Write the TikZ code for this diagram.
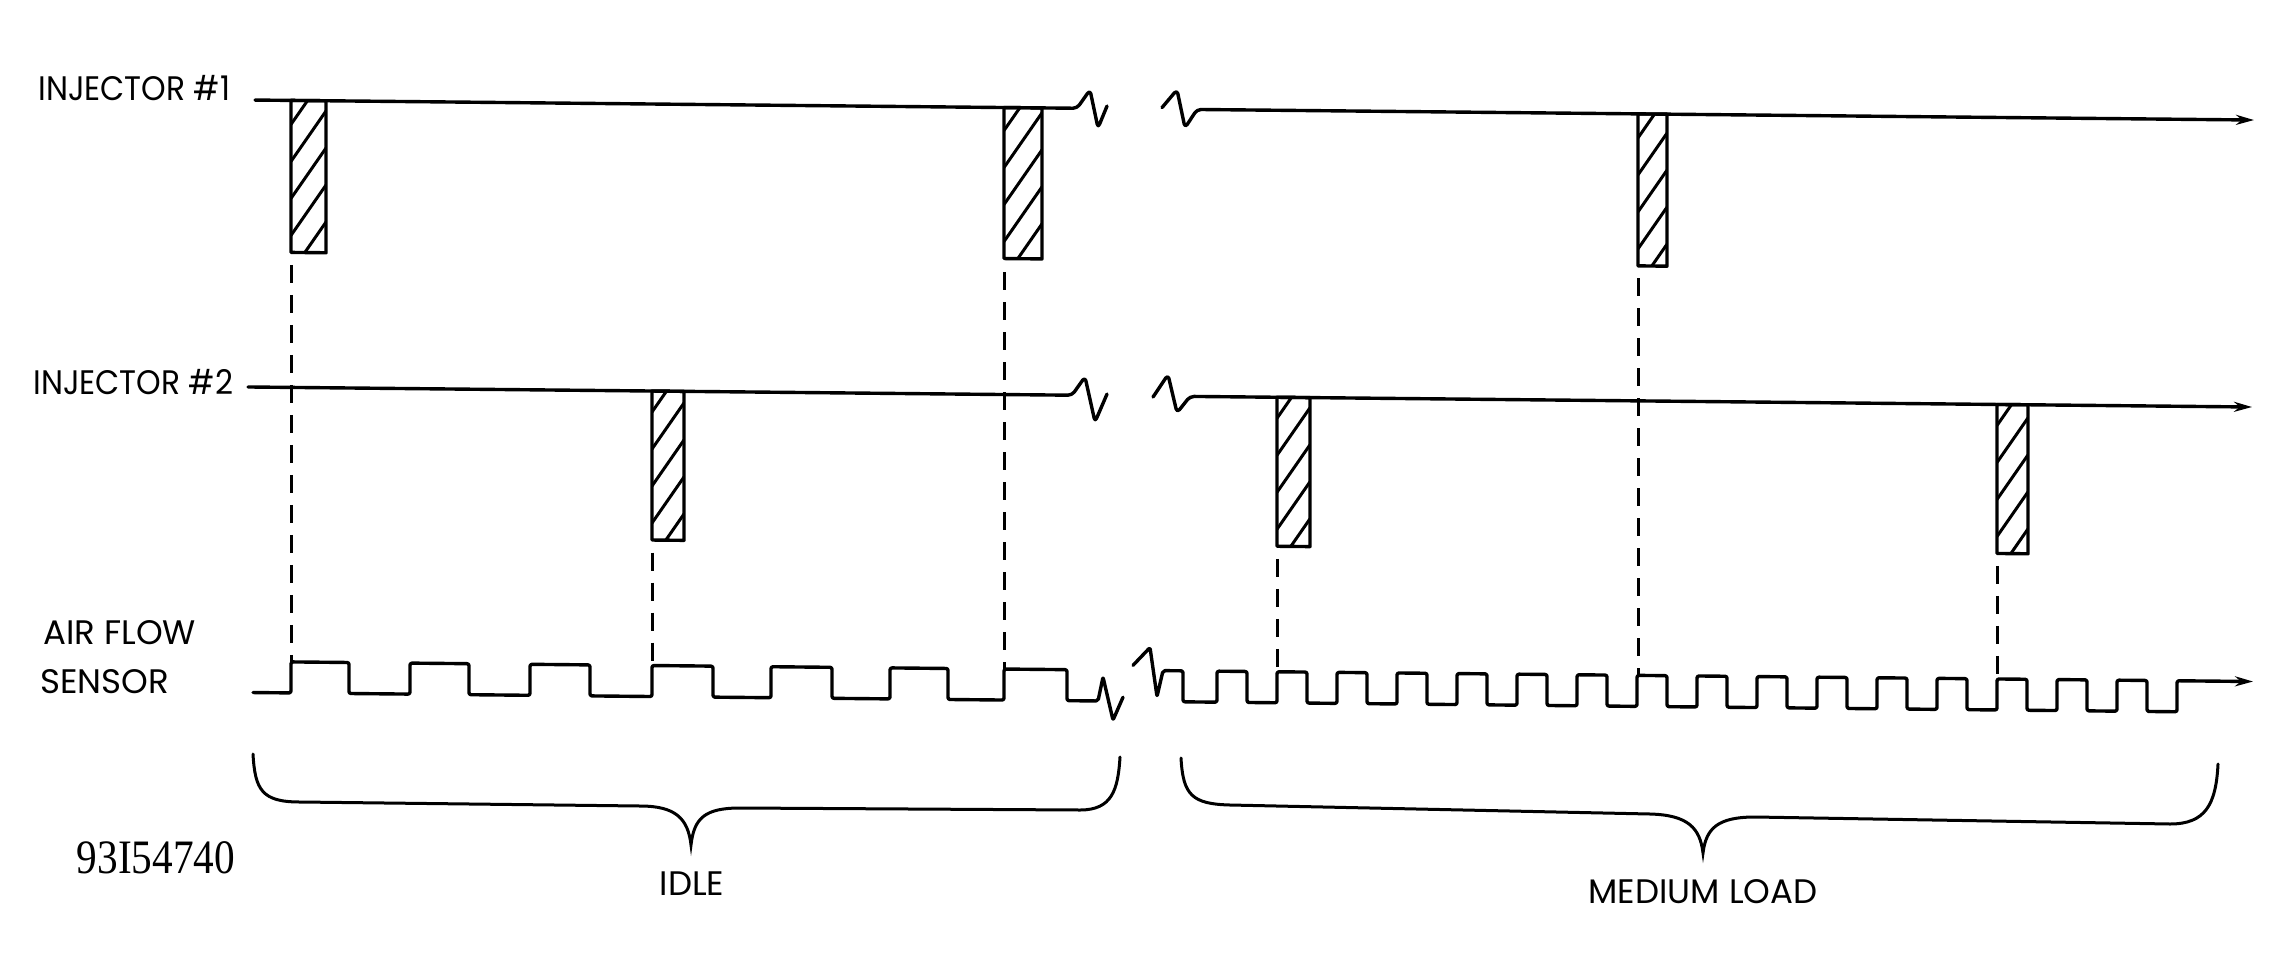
\documentclass[tikz,border=0pt]{standalone}
\usepackage{fontspec}
\setmainfont{Poppins}
\newfontfamily\numfont{Liberation Serif}
\usetikzlibrary{arrows.meta}
\newcommand\injpulse[4]{%
  \begin{scope}
    \clip (#1,#2) rectangle ++(#3,#4);
    \foreach \k in {0,...,6}{\draw[hatchline] (#1,{#2+#4+20-37*\k}) -- ++(#3,{-1.45*#3});}
  \end{scope}
  \draw[wave] (#1,#2) rectangle ++(#3,#4);}
\newcommand\narrowlbl[1]{\scalebox{0.92}[1]{#1}}
\begin{document}
\begin{tikzpicture}[x=0.5pt,y=-0.5pt,
  wave/.style={line width=1.7pt, line join=round, line cap=round},
  hatchline/.style={line width=1.5pt},
  guide/.style={line width=1.5pt, dash pattern=on 9pt off 6pt},
  arrowline/.style={wave, -{Stealth[length=9pt,width=5pt]}},
  brace/.style={line width=1.5pt, line cap=round},
  lab/.style={inner sep=0pt, font=\fontsize{17}{20}\selectfont},
]
\useasboundingbox (0,0) rectangle (2295,979);
\fill[white] (0,0) rectangle (2295,979);

\begin{scope}[cm={1,-0.01,0,1,(0,0)}]
  % injector 1
  \draw[wave, rounded corners=2pt] (255,97.5) -- (1077,97.5) -- (1090,79) -- (1098,117) -- (1107,95);
  \draw[arrowline, rounded corners=2pt] (1162,96) -- (1177,78) -- (1185,116) -- (1197,97.5) -- (2254,97.5);
  % injector 2
  \draw[wave, rounded corners=2pt] (248,384.5) -- (1072,384.5) -- (1085,366) -- (1095,411) -- (1107,383);
  \draw[arrowline, rounded corners=2pt] (1153,385.5) -- (1168,363) -- (1177,401) -- (1190,384.5) -- (2252,384.5);
  % pulses
  \injpulse{291}{97.5}{35}{152}
  \injpulse{1004}{97.5}{38}{151}
  \injpulse{1638}{97.5}{29}{152}
  \injpulse{652}{384.5}{32}{149}
  \injpulse{1277}{384.5}{33}{149}
  \injpulse{1997}{384.5}{31}{149}
  % guides
  \draw[guide] (291,262) -- (291,659);
  \draw[guide] (1004,262) -- (1004,659);
  \draw[guide] (1638,262) -- (1638,659);
  \draw[guide] (652,546) -- (652,659);
  \draw[guide] (1277,546) -- (1277,659);
  \draw[guide] (1997,546) -- (1997,659);
  % air flow sensor, idle
  \draw[wave, rounded corners=1pt] (253,690) -- (291,690) -- (291,659) -- (349,659) -- (349,690)
    -- (410,690) -- (410,659) -- (469,659) -- (469,690) -- (530,690) -- (530,659) -- (590,659)
    -- (590,690) -- (652,690) -- (652,659) -- (713,659) -- (713,690) -- (771,690) -- (771,659)
    -- (832,659) -- (832,690) -- (890,690) -- (890,659) -- (948,659) -- (948,690) -- (1004,690)
    -- (1004,659) -- (1067,659) -- (1067,690) -- (1098,690) -- (1103,666) -- (1113,709) -- (1123,686);
  % air flow sensor, medium load
  \draw[arrowline, rounded corners=1pt] (1133,654) -- (1150,636) -- (1157,685) -- (1163,659) -- (1183,659) -- (1183,690)
    \foreach \k in {0,...,15}{ -- ({1217+60*\k},690) -- ({1217+60*\k},659) -- ({1247+60*\k},659) -- ({1247+60*\k},690)}
    -- (2177,690) -- (2177,659) -- (2253,659);
\end{scope}

% braces
\draw[brace] (253,754) .. controls (255,790) and (262,802) .. (300,802) -- (640,806)
  .. controls (675,806) and (688,818) .. (691,845) .. controls (694,818) and (705,808) .. (740,808)
  -- (1080,810) .. controls (1112,810) and (1118,790) .. (1120,757);
\draw[brace] (1181,758) .. controls (1183,795) and (1192,804) .. (1230,805) -- (1650,814)
  .. controls (1688,815) and (1700,828) .. (1703,853) .. controls (1706,828) and (1718,817) .. (1755,817)
  -- (2170,824) .. controls (2205,824) and (2216,805) .. (2218,764);

% labels
\node[lab, anchor=west] (inj1) at (38,88) {\narrowlbl{INJECTOR \#1}};
\node[lab, anchor=west] (inj2) at (33,382) {\narrowlbl{INJECTOR \#2}};
\node[lab, anchor=west] (afs1) at (43,633) {AIR FLOW};
\node[lab, anchor=west] (afs2) at (40,682) {SENSOR};
\node[lab] (idle) at (692,884) {IDLE};
\node[lab] (medium) at (1703,892) {MEDIUM LOAD};
\node[inner sep=0pt, font=\numfont\fontsize{24}{26}\selectfont] (fig) at (156,858) {\scalebox{0.86}[1]{93I54740}};
\end{tikzpicture}
\end{document}
